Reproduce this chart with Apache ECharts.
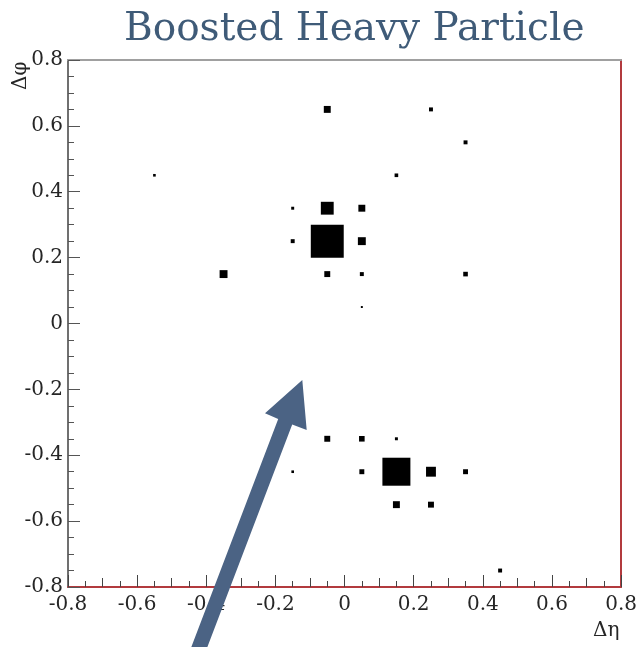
<!DOCTYPE html>
<html>
<head>
<meta charset="utf-8">
<script src="https://cdn.jsdelivr.net/npm/echarts@6/dist/echarts.min.js"></script>
<style>html,body{margin:0;padding:0;background:#fff;}#c{width:640px;height:647px;}</style>
</head>
<body>
<div id="c"></div>
<script>
// Bin centres (Δη, Δφ) and bin contents of the 2D histogram
const etaBins  = [-0.05, 0.25, 0.35, -0.55, 0.15, -0.15, -0.05, 0.05, -0.15, -0.05, 0.05, -0.35, -0.05, 0.05, 0.35, 0.05, -0.05, 0.05, 0.15, -0.15, 0.05, 0.15, 0.25, 0.35, 0.15, 0.25, 0.45];
const phiBins  = [0.65, 0.65, 0.55, 0.45, 0.45, 0.35, 0.35, 0.35, 0.25, 0.25, 0.25, 0.15, 0.15, 0.15, 0.15, 0.05, -0.35, -0.35, -0.35, -0.45, -0.45, -0.45, -0.45, -0.45, -0.55, -0.55, -0.75];
const contents = [21, 12, 12, 8, 11, 9, 39, 21, 12, 100, 24, 24, 18, 12, 14, 6, 18, 17, 9, 8, 15, 85, 30, 15, 21, 18, 12];
const tickValues = [-0.8, -0.6, -0.4, -0.2, 0, 0.2, 0.4, 0.6, 0.8];
const binWidth = 0.1;

const data = etaBins.map((e, i) => [e, phiBins[i], contents[i]]);
const maxContent = Math.max(...contents);
const serif = 'DejaVu Serif';
const fmt = v => (Math.abs(v) < 1e-9 ? '0' : String(Math.round(v * 10) / 10));

const chart = echarts.init(document.getElementById('c'), null, {renderer: 'canvas'});
chart.setOption({
  animation: false,
  backgroundColor: '#fff',
  title: {
    text: 'Boosted Heavy Particle',
    left: 119, top: 5,
    textStyle: {fontFamily: serif, fontSize: 39, fontWeight: 'normal', color: '#3f5b78'}
  },
  grid: {left: 68, right: 17, top: 60, bottom: 60},
  xAxis: [{
    type: 'value', min: -0.8, max: 0.8, interval: 0.2,
    axisLine: {show: true, onZero: false, lineStyle: {color: '#b23a3e', width: 2}},
    axisTick: {show: true, inside: true, length: 12, lineStyle: {color: '#444', width: 1}},
    minorTick: {show: true, splitNumber: 4, length: 6, lineStyle: {color: '#444', width: 1}},
    splitLine: {show: false},
    axisLabel: {margin: 8, fontFamily: serif, fontSize: 20, color: '#262626', formatter: fmt,
      customValues: tickValues}
  }, {
    type: 'value', min: -0.8, max: 0.8, position: 'top',
    axisLine: {show: true, onZero: false, lineStyle: {color: '#a0a0a0', width: 2}},
    axisTick: {show: false}, axisLabel: {show: false}, splitLine: {show: false}
  }, {
    type: 'value', min: -0.8, max: 0.8, interval: 0.1, position: 'bottom', offset: 0,
    axisLine: {show: false, onZero: false},
    axisTick: {show: true, inside: true, length: 9, lineStyle: {color: '#444', width: 1}},
    axisLabel: {show: false}, splitLine: {show: false}
  }],
  yAxis: [{
    type: 'value', min: -0.8, max: 0.8, interval: 0.2,
    axisLine: {show: true, onZero: false, lineStyle: {color: '#707070', width: 2}},
    axisTick: {show: true, inside: true, length: 12, lineStyle: {color: '#555', width: 1}},
    minorTick: {show: true, splitNumber: 4, length: 6, lineStyle: {color: '#555', width: 1}},
    splitLine: {show: false},
    axisLabel: {margin: 5, fontFamily: serif, fontSize: 20, color: '#262626', formatter: fmt}
  }, {
    type: 'value', min: -0.8, max: 0.8, position: 'right',
    axisLine: {show: true, onZero: false, lineStyle: {color: '#b23a3e', width: 2}},
    axisTick: {show: false}, axisLabel: {show: false}, splitLine: {show: false}
  }],
  series: [{
    type: 'custom',
    coordinateSystem: 'cartesian2d',
    xAxisIndex: 0, yAxisIndex: 0,
    data: data,
    renderItem: function (params, api) {
      const c = api.coord([api.value(0), api.value(1)]);
      const cell = api.size([binWidth, binWidth]);
      const side = Math.min(cell[0], cell[1]) * api.value(2) / maxContent;
      return {
        type: 'rect',
        shape: {x: c[0] - side / 2, y: c[1] - side / 2, width: side, height: side},
        style: {fill: '#000'}
      };
    }
  }],
  graphic: [
    {type: 'text', left: 593, top: 621, style: {text: 'Δη', fontFamily: serif, fontSize: 20, fill: '#262626'}},
    {type: 'text', x: 11, y: 90, rotation: Math.PI / 2, style: {text: 'Δφ', fontFamily: serif, fontSize: 20, fill: '#262626'}},
    {type: 'polygon', z: 100,
     shape: {points: [[187.4, 657.3], [278.2, 419.0], [265, 413.3], [302.3, 380], [306.7, 430], [292.2, 424.4], [201.4, 662.7]]},
     style: {fill: '#4b6384'}}
  ]
});
</script>
</body>
</html>
